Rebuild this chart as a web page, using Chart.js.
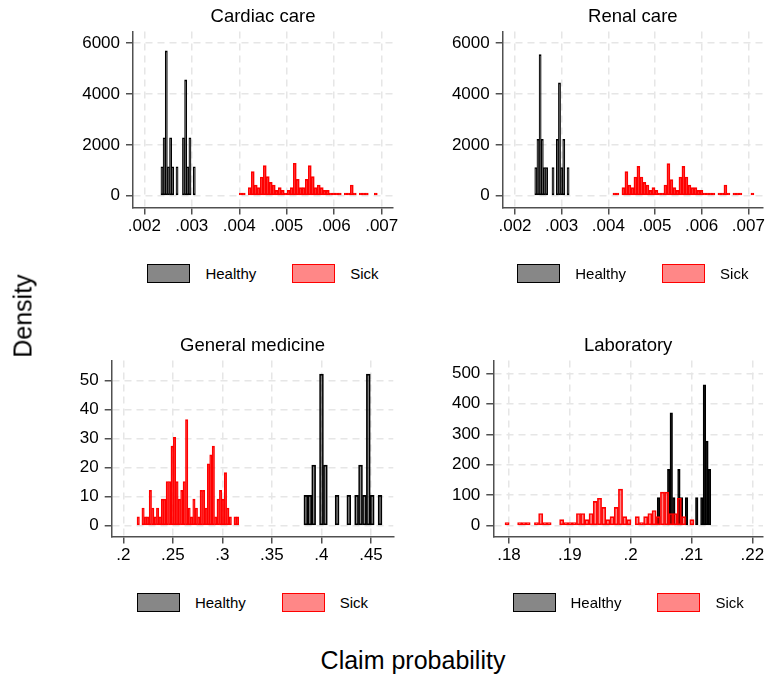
<!DOCTYPE html>
<html lang="en">
<head>
<meta charset="UTF-8">
<title>Claim probability densities</title>
<style>
    body {
        margin: 0;
        background: #fff;
        overflow: hidden;
        font-family: "Liberation Sans", Arial, sans-serif;
    }
    .page {
        position: relative;
        width: 766px;
        height: 677px;
    }
    .page canvas {
        position: absolute;
    }
    .legend {
        position: absolute;
        width: 300px;
        height: 19px;
        display: flex;
        justify-content: center;
        align-items: center;
        font-size: 15px;
        color: #000;
    }
    .legend .item {
        display: flex;
        align-items: center;
    }
    .legend .item + .item {
        margin-left: 36px;
    }
    .legend .swatch {
        width: 43px;
        height: 19px;
        box-sizing: border-box;
        border: 1px solid;
        margin-right: 15px;
    }
    .axis-title {
        position: absolute;
        font-size: 25px;
        line-height: 1;
        white-space: nowrap;
        transform: translate(-50%, -50%);
    }
    #yTitle {
        transform: translate(-50%, -50%) rotate(-90deg);
    }
</style>
</head>
<body>
<div class="page" id="page">
    <canvas id="cardiac" width="380" height="245" style="left:33px; top:0px"></canvas>
    <canvas id="renal" width="381" height="245" style="left:402px; top:0px"></canvas>
    <canvas id="general" width="403" height="245" style="left:11px; top:329px"></canvas>
    <canvas id="laboratory" width="390" height="245" style="left:393px; top:329px"></canvas>
    <div class="axis-title" id="yTitle" style="left:23px; top:316px">Density</div>
    <div class="axis-title" id="xTitle" style="left:413px; top:660px">Claim probability</div>
</div>

<script src="https://cdn.jsdelivr.net/npm/chart.js@4"></script>
<script>
    // Histogram bins: first bin edge, bin width, density per bin (0 = empty bin)
    const cardiacHealthyStart = 0.00235;
    const cardiacHealthyWidth = 0.0000453;
    const cardiacHealthy = [1140, 2280, 5700, 1140, 2280, 1140, 0, 1140, 0, 0, 2280, 4560, 1140, 2280, 0, 1140];

    const cardiacSickStart = 0.004;
    const cardiacSickWidth = 0.0000632;
    const cardiacSick = [105, 105, 0, 315, 945, 420, 315, 735, 1180, 750,
                         525, 420, 210, 315, 210, 105, 210, 315, 1275, 640,
                         315, 315, 640, 1180, 750, 315, 420, 315, 210, 210,
                         105, 105, 105, 105, 0, 105, 105, 420, 105, 0,
                         105, 105, 105, 0, 0, 105];

    const renalHealthyStart = 0.0024233;
    const renalHealthyWidth = 0.0000461;
    const renalHealthy = [1110, 2220, 5550, 2220, 1110, 1110, 0, 0, 1110, 0, 2220, 4440, 1110, 2220, 0, 1110];

    const renalSickStart = 0.0040986;
    const renalSickWidth = 0.0000643;
    const renalSick = [105, 105, 0, 315, 945, 420, 315, 735, 1155, 735,
                       525, 420, 210, 315, 210, 105, 105, 420, 1260, 630,
                       315, 210, 735, 1155, 735, 420, 315, 315, 210, 210,
                       105, 105, 105, 105, 0, 105, 105, 420, 105, 0,
                       105, 105, 105, 0, 0, 0, 105];

    const generalHealthyStart = 0.3823;
    const generalHealthyWidth = 0.003941;
    const generalHealthy = [10.45, 10.45, 20.9, 0, 52.25, 20.9, 0, 0, 10.45, 0,
                            0, 10.45, 0, 10.45, 20.9, 10.45, 52.25, 10.45, 0, 10.45];

    const generalSickStart = 0.21384;
    const generalSickWidth = 0.002445;
    const generalSick = [3.05, 0, 6.1, 3.05, 3.05, 12.2, 6.1, 3.05, 6.1, 3.05,
                         9.15, 9.15, 15.25, 15.25, 27.45, 30.5, 15.25, 9.15, 12.2, 15.25,
                         36.6, 6.1, 3.05, 9.15, 6.1, 3.05, 12.2, 12.2, 6.1, 21.35,
                         24.4, 27.45, 3.05, 9.15, 12.2, 9.15, 18.3, 6.1, 3.05, 0,
                         3.05, 3.05];

    const labHealthyStart = 0.204373;
    const labHealthyWidth = 0.000419;
    const labHealthy = [92.5, 0, 0, 0, 185, 370, 92.5, 0, 185, 92.5,
                        0, 92.5, 0, 0, 0, 92.5, 0, 92.5, 462.5, 277.5, 185];

    const labSickStart = 0.179342;
    const labSickWidth = 0.0006905;
    const labSick = [10, 0, 0, 10, 10, 10, 0, 10, 40, 10,
                     10, 0, 0, 20, 10, 10, 10, 40, 40, 20,
                     40, 80, 90, 60, 20, 30, 60, 120, 30, 20,
                     0, 30, 10, 30, 40, 50, 30, 110, 110, 40,
                     40, 90, 30, 0, 20];

    // Tick values
    const careXTicks = [0.002, 0.003, 0.004, 0.005, 0.006, 0.007];
    const careYTicks = [0, 2000, 4000, 6000];
    const generalXTicks = [0.2, 0.25, 0.3, 0.35, 0.4, 0.45];
    const generalYTicks = [0, 10, 20, 30, 40, 50];
    const labXTicks = [0.18, 0.19, 0.2, 0.21, 0.22];
    const labYTicks = [0, 100, 200, 300, 400, 500];

    const FONT = '"Liberation Sans", Arial, sans-serif';
    Chart.defaults.font.family = FONT;
    Chart.defaults.color = '#000';

    const panels = [
        { id: 'cardiac', title: 'Cardiac care', padLeft: 40, padRight: 20,
          x: [0.001762, 0.007238, careXTicks], y: [-465, 6465, careYTicks],
          healthy: [cardiacHealthyStart, cardiacHealthyWidth, cardiacHealthy],
          sick: [cardiacSickStart, cardiacSickWidth, cardiacSick] },
        { id: 'renal', title: 'Renal care', padLeft: 40.7, padRight: 20,
          x: [0.0017364, 0.007315, careXTicks], y: [-465, 6465, careYTicks],
          healthy: [renalHealthyStart, renalHealthyWidth, renalHealthy],
          sick: [renalSickStart, renalSickWidth, renalSick] },
        { id: 'general', title: 'General medicine', padLeft: 40.7, padRight: 20.7,
          x: [0.188278, 0.472535, generalXTicks], y: [-3.724, 57.0, generalYTicks],
          healthy: [generalHealthyStart, generalHealthyWidth, generalHealthy],
          sick: [generalSickStart, generalSickWidth, generalSick] },
        { id: 'laboratory', title: 'Laboratory', padLeft: 40.3, padRight: 20,
          x: [0.177419, 0.221759, labXTicks], y: [-35.43, 542.3, labYTicks],
          healthy: [labHealthyStart, labHealthyWidth, labHealthy],
          sick: [labSickStart, labSickWidth, labSick] }
    ];

    // one bar per non-empty bin, centred in the bin
    function binPoints(start, width, densities) {
        const points = [];
        densities.forEach((d, i) => {
            if (d > 0) points.push({ x: start + (i + 0.5) * width, y: d });
        });
        return points;
    }

    function histogram(label, bins, fill, line, order) {
        const [start, width, densities] = bins;
        return {
            label: label,
            data: binPoints(start, width, densities),
            backgroundColor: fill,
            borderColor: line,
            borderWidth: 1,
            borderSkipped: false,
            grouped: false,
            order: order,
            // bar as wide as one bin on the x scale
            barThickness: ctx => {
                const sx = ctx.chart.scales.x;
                return Math.abs(sx.getPixelForValue(sx.min + width) - sx.getPixelForValue(sx.min));
            }
        };
    }

    function axis(range, horizontal) {
        const [min, max, ticks] = range;
        return {
            type: 'linear',
            min: min,
            max: max,
            offset: false,
            afterBuildTicks: s => { s.ticks = ticks.map(v => ({ value: v })); },
            afterFit: s => {
                if (horizontal) s.height = 30;
                else s.width = 60;
            },
            grid: { offset: false, color: '#e6e6e6', lineWidth: 1.5, tickLength: 7, tickColor: '#505050', tickWidth: 1.5 },
            border: { color: '#505050', width: 1.5, dash: [7, 5] },
            ticks: {
                font: { size: 17 },
                padding: horizontal ? 2 : 6,
                maxRotation: 0,
                autoSkip: false,
                callback: v => String(v).replace(/^0\./, '.')
            }
        };
    }

    function addLegend(chart, canvas) {
        const area = chart.chartArea;
        const centre = canvas.offsetLeft + (area.left + area.right) / 2;
        const legend = document.createElement('div');
        legend.className = 'legend';
        legend.style.left = (centre - 150) + 'px';
        legend.style.top = (canvas.offsetTop + 264) + 'px';
        chart.data.datasets.forEach(ds => {
            const item = document.createElement('div');
            item.className = 'item';
            const swatch = document.createElement('span');
            swatch.className = 'swatch';
            swatch.style.background = ds.backgroundColor;
            swatch.style.borderColor = ds.borderColor;
            const text = document.createElement('span');
            text.textContent = ds.label;
            item.appendChild(swatch);
            item.appendChild(text);
            legend.appendChild(item);
        });
        document.getElementById('page').appendChild(legend);
    }

    panels.forEach(p => {
        const canvas = document.getElementById(p.id);
        const chart = new Chart(canvas, {
            type: 'bar',
            data: {
                datasets: [
                    histogram('Healthy', p.healthy, 'rgba(0, 0, 0, 0.47)', '#000000', 1),
                    histogram('Sick', p.sick, 'rgba(255, 0, 0, 0.47)', '#ff0000', 0)
                ]
            },
            options: {
                responsive: false,
                animation: false,
                events: [],
                layout: { padding: { top: 4, bottom: 7.5, left: p.padLeft, right: p.padRight } },
                plugins: {
                    legend: { display: false },
                    tooltip: { enabled: false },
                    title: {
                        display: true,
                        text: p.title,
                        fullSize: false,
                        color: '#000',
                        font: { size: 18.5, weight: 'normal' },
                        padding: { top: 2, bottom: 3.2 }
                    }
                },
                scales: {
                    x: axis(p.x, true),
                    y: axis(p.y, false)
                }
            }
        });
        addLegend(chart, canvas);
    });
</script>
</body>
</html>
